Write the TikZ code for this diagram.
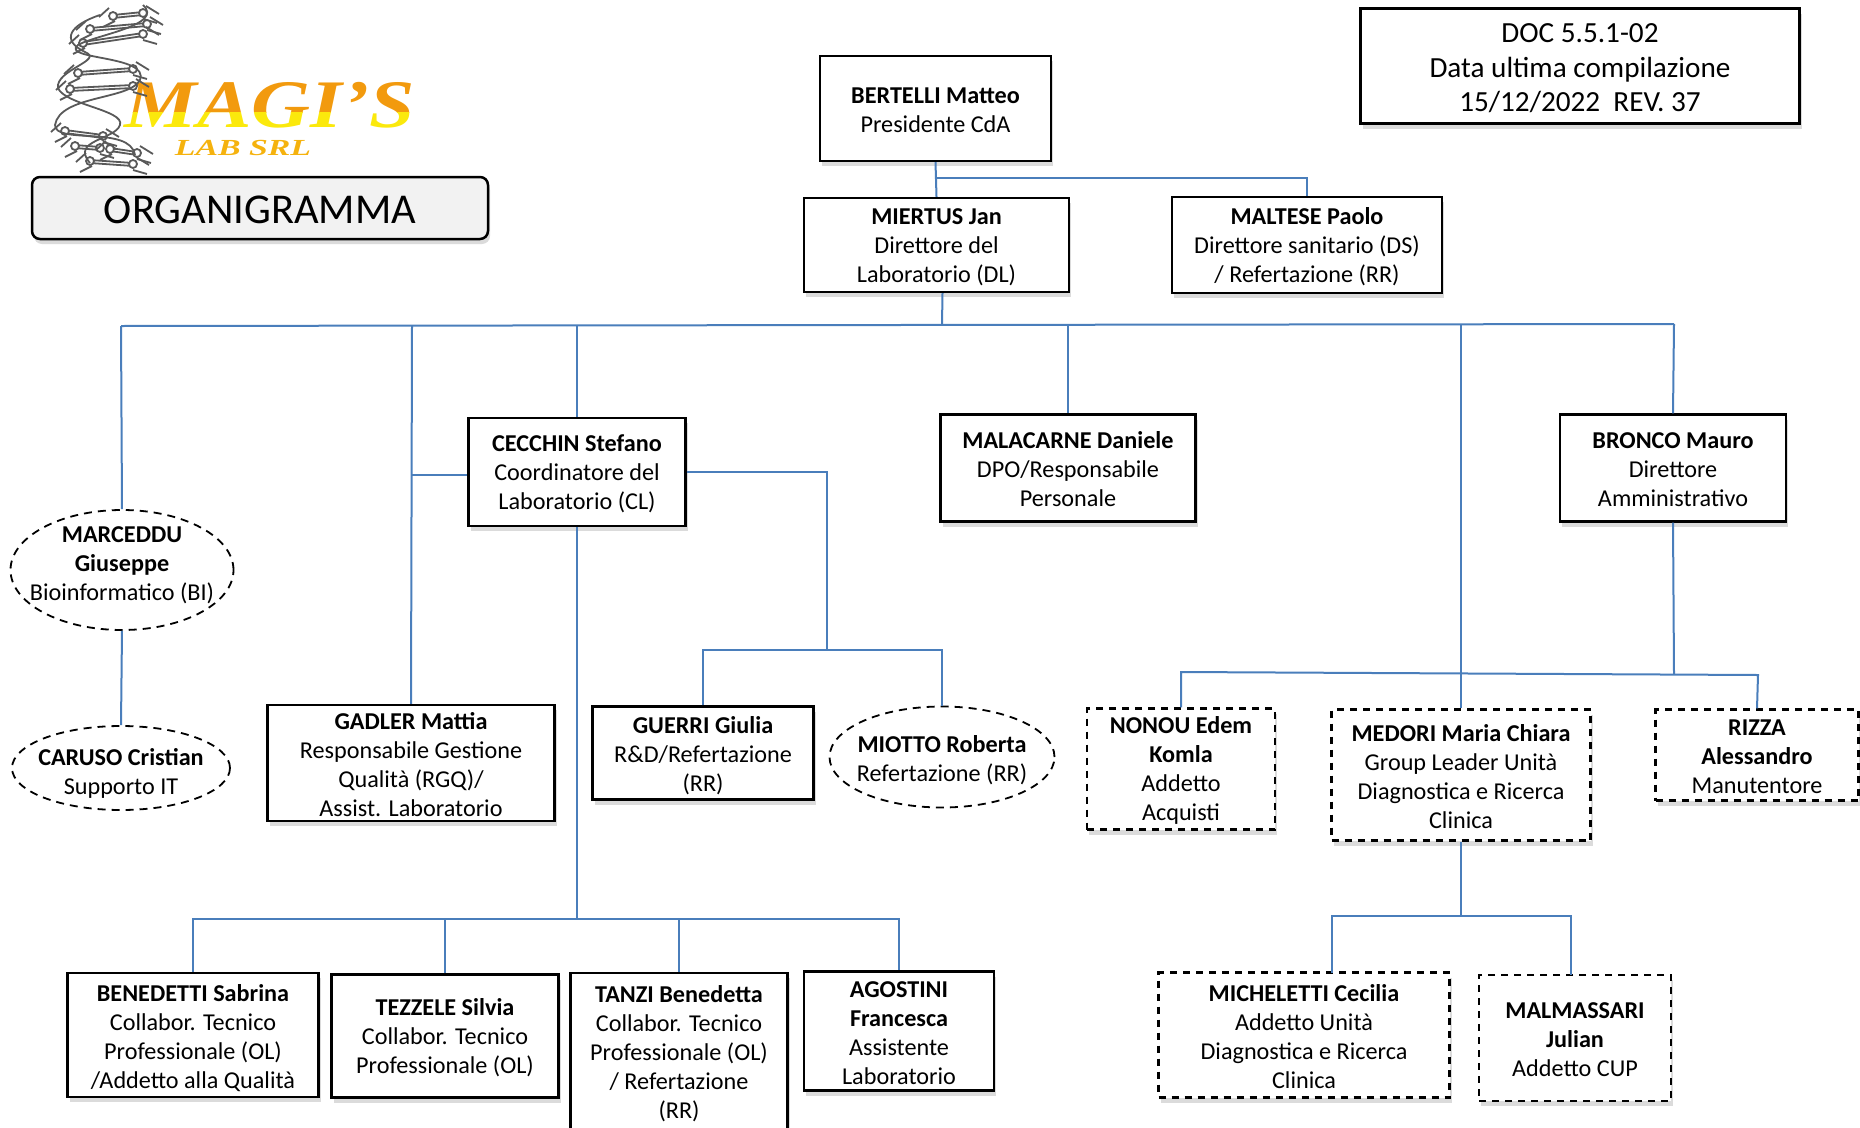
\documentclass[tikz,border=0pt]{standalone}
\usepackage{fontspec}
\setmainfont{Carlito}
\newfontfamily\logofont{Liberation Serif}
\usetikzlibrary{positioning}
\usetikzlibrary{calc}
\usetikzlibrary{shadows}
\usetikzlibrary{shapes.geometric}

\definecolor{linkblue}{HTML}{4A7EBB}
\definecolor{logoorange}{HTML}{F29A0E}
\definecolor{logoyellow}{HTML}{FBE90C}
\newcommand{\lift}[1]{\rule{0pt}{#1pt}}
\newcommand{\nm}[1]{\lift{20}\textbf{#1}}

\begin{document}
\begin{tikzpicture}[ x = 1pt
                     , y = -1pt
                     , font = \fontsize{24.2}{29}\selectfont
                     , every node/.style = { align     = center
                                           , inner sep = 0pt
                                           }
                     ]

  \useasboundingbox (0,0) rectangle (1860,1127);

  %%
  %% Node types
  %%
  \tikzset{ softshadow/.style={drop shadow={shadow xshift=2pt, shadow yshift=-5pt, opacity=0.14, fill=black}}
          , person/.style={rectangle, draw=black, line width=2.3pt, fill=white, softshadow}
          , extern/.style={rectangle, draw=black, line width=2.3pt, dash pattern=on 7pt off 6pt, fill=white, softshadow}
          , oval/.style={ellipse, draw=black, line width=1.8pt, dash pattern=on 8pt off 6pt, inner xsep=-14pt, inner ysep=-3pt}
          , logotext/.style={font=\logofont\bfseries\itshape\fontsize{68}{68}\selectfont, xscale=1.2}
          }

  %%
  %% Line types
  %%
  \tikzset{ link/.style={draw=linkblue, line width=2pt}
          , strand/.style={draw=black!65, line width=1.8pt}
          }

  %%
  %% Logo
  %%
  \begin{scope}
    \clip (100,60) rectangle (430,112);
    \node (magitop) [logotext, text=logoorange] at (270,105.5) {MAGI’S};
  \end{scope}
  \begin{scope}
    \clip (100,112) rectangle (430,135);
    \node (magibottom) [logotext, text=logoyellow] at (270,105.5) {MAGI’S};
  \end{scope}
  \node (labsrl) [text=logoorange!70!logoyellow, font=\logofont\bfseries\itshape\fontsize{23}{23}\selectfont, xscale=1.47] at (243,148) {LAB SRL};

  \foreach \xa/\ya/\xb/\yb in { 113/15/143/12, 90/28/147/23, 83/42/143/33
                              , 78/72/133/68, 70/88/133/85, 65/130/103/135
                              , 75/145/100/147, 110/148/137/152, 90/160/133/163}
    {
    \draw[strand] (\xa,\ya) -- (\xb,\yb);
    \draw[strand] (\xa,\ya+3) -- (\xb,\yb+3);
    \draw[strand] (\xa-4,\ya-7) -- (\xa-14,\ya+2) (\xa+2,\ya+6) -- (\xa-10,\ya+12);
    \draw[strand] (\xb+3,\yb-6) -- (\xb+16,\yb+2) (\xb,\yb+7) -- (\xb+14,\yb+11);
    \draw[strand, fill=white] (\xa,\ya+1) circle (4);
    \draw[strand, fill=white] (\xb,\yb+1) circle (4);
    }
  \draw[strand] (143,5) .. controls (165,25) and (95,35) .. (78,45)
                        .. controls (60,60) and (150,55) .. (140,80)
                        .. controls (130,100) and (60,95) .. (55,125)
                        .. controls (55,145) and (130,125) .. (135,155);
  \draw[strand] (100,15) .. controls (70,25) and (60,40) .. (85,52)
                         .. controls (105,60) and (55,70) .. (58,88)
                         .. controls (65,105) and (125,110) .. (120,125)
                         .. controls (115,140) and (70,140) .. (90,163);

  %%
  %% Nodes
  %%
  \node (title) [rectangle, rounded corners=8pt, draw=black, line width=2.5pt, fill=black!5, softshadow, minimum width=456pt, minimum height=62pt, font=\fontsize{42.5}{42.5}\selectfont] at (260,208) {\lift{31}ORGANIGRAMMA};
  \node (docinfo) [person, minimum width=439pt, minimum height=115pt, font=\fontsize{29.2}{34.5}\selectfont] at (1580,66) {\lift{24}DOC 5.5.1-02\\Data ultima compilazione\\15/12/2022~~REV. 37};

  \node (bertelli)  [person, minimum width=231pt, minimum height=105pt] at (935.5,108.5) {\nm{BERTELLI Matteo}\\Presidente CdA};
  \node (miertus)   [person, minimum width=265pt, minimum height=94pt]  at (936.5,245) {\nm{MIERTUS Jan}\\Direttore del\\Laboratorio (DL)};
  \node (maltese)   [person, minimum width=270pt, minimum height=96pt]  at (1307,245) {\nm{MALTESE Paolo}\\Direttore sanitario (DS)\\/ Refertazione (RR)};

  \node (cecchin)   [person, minimum width=217pt, minimum height=108pt] at (577,472) {\nm{CECCHIN Stefano}\\Coordinatore del\\Laboratorio (CL)};
  \node (malacarne) [person, minimum width=255pt, minimum height=107pt] at (1068,468) {\nm{MALACARNE Daniele}\\DPO/Responsabile\\Personale};
  \node (bronco)    [person, minimum width=226pt, minimum height=107pt] at (1673,468) {\nm{BRONCO Mauro}\\Direttore\\Amministrativo};

  \node (marceddu)  [oval, minimum width=223pt, minimum height=120pt] at (122,570) {\textbf{MARCEDDU}\\\textbf{Giuseppe}\\Bioinformatico (BI)\rule[-13pt]{0pt}{1pt}};
  \node (caruso)    [oval, minimum width=218pt, minimum height=84pt]  at (121,768) {\lift{28}\textbf{CARUSO Cristian}\\Supporto IT};
  \node (gadler)    [person, minimum width=287pt, minimum height=116pt] at (411,763) {\nm{GADLER Mattia}\\Responsabile Gestione\\Qualità (RGQ)/\\Assist. Laboratorio};
  \node (guerri)    [person, minimum width=221pt, minimum height=93pt]  at (703,753) {\lift{23}\textbf{GUERRI Giulia}\\R\&D/Refertazione\\(RR)};
  \node (miotto)    [oval, minimum width=225pt, minimum height=101pt] at (942,757) {\lift{23}\textbf{MIOTTO Roberta}\\Refertazione (RR)};

  \node (nonou)     [extern, minimum width=188pt, minimum height=121pt] at (1181,769) {\nm{NONOU Edem}\\\nm{Komla}\\Addetto\\Acquisti};
  \node (medori)    [extern, minimum width=259pt, minimum height=131pt] at (1461,775) {\nm{MEDORI Maria Chiara}\\Group Leader Unità\\Diagnostica e Ricerca\\Clinica};
  \node (rizza)     [extern, minimum width=203pt, minimum height=91pt]  at (1757,755) {\nm{RIZZA}\\\nm{Alessandro}\\Manutentore};

  \node (benedetti) [person, minimum width=251pt, minimum height=124pt] at (193,1035) {\lift{23}\textbf{BENEDETTI Sabrina}\\Collabor. Tecnico\\Professionale (OL)\\/Addetto alla Qualità};
  \node (tezzele)   [person, minimum width=227pt, minimum height=123pt] at (445,1036) {\nm{TEZZELE Silvia}\\Collabor. Tecnico\\Professionale (OL)};
  \node (tanzi)     [person, minimum width=217pt, minimum height=158pt] at (679,1052) {\nm{TANZI Benedetta}\\Collabor. Tecnico\\Professionale (OL)\\/ Refertazione\\(RR)};
  \node (agostini)  [person, minimum width=190pt, minimum height=119pt] at (899,1031) {\nm{AGOSTINI}\\\nm{Francesca}\\Assistente\\Laboratorio};

  \node (micheletti) [extern, minimum width=291pt, minimum height=125pt] at (1304,1035) {\nm{MICHELETTI Cecilia}\\Addetto Unità\\Diagnostica e Ricerca\\Clinica};
  \node (malmassari) [extern, minimum width=192pt, minimum height=126pt] at (1575,1038) {\nm{MALMASSARI}\\\nm{Julian}\\Addetto CUP};

  %%
  %% Junctions
  %%
  \coordinate (topjoin)   at (936,178);
  \coordinate (busjoin)   at (942,325);
  \coordinate (busleft)   at (121,326);
  \coordinate (busright)  at (1674,324);
  \coordinate (gadlerbus) at (412,326);
  \coordinate (gadlerjoin) at (412,475);
  \coordinate (ceccbus)   at (577,326);
  \coordinate (malabus)   at (1068,325);
  \coordinate (medobus)   at (1461,325);
  \coordinate (labcorner) at (827,472);
  \coordinate (labjoin)   at (827,650);
  \coordinate (staffjoin) at (577,919);
  \coordinate (admjoin)   at (1674,674);
  \coordinate (nonoujoin) at (1181,672);
  \coordinate (rizzajoin) at (1758,675);
  \coordinate (unitjoin)  at (1461,916);
  \coordinate (michtop)   at (1332,973);
  \coordinate (malmtop)   at (1571,975);

  %%
  %% Relationships between nodes
  %%
  %%% Top of the chart
  \draw[link] (bertelli.south) -- (miertus.north);
  \draw[link] (topjoin) -| (maltese.north);
  \draw[link] ($(miertus.south)+(6,0)$) -- (busjoin);
  \draw[link] (busleft) -- (busright);

  %%% Branches from the main line
  \draw[link] (busleft) -- (marceddu.north);
  \draw[link] (marceddu.south) -- (caruso.north);
  \draw[link] (gadlerbus) -- (gadler.north);
  \draw[link] (gadlerjoin) -- (cecchin.west |- gadlerjoin);
  \draw[link] (ceccbus) -- (cecchin.north);
  \draw[link] (malabus) -- (malacarne.north);
  \draw[link] (medobus) -- (medori.north);
  \draw[link] (busright) -- (bronco.north);

  %%% Coordinator
  \draw[link] (cecchin.east) -- (labcorner) -- (labjoin);
  \draw[link] (guerri.north) |- (labjoin) -| (miotto.north);
  \draw[link] (cecchin.south) -- (staffjoin);
  \draw[link] (benedetti.north) |- (staffjoin) -| (agostini.north);
  \draw[link] (tezzele.north) -- (tezzele.north |- staffjoin);
  \draw[link] (tanzi.north) -- (tanzi.north |- staffjoin);

  %%% Administration
  \draw[link] (bronco.south) -- (admjoin);
  \draw[link] (nonou.north) -- (nonoujoin) -- (rizzajoin) -- (rizza.north);

  %%% Diagnostic unit
  \draw[link] (medori.south) -- (unitjoin);
  \draw[link] (michtop) |- (unitjoin) -| (malmtop);

\end{tikzpicture}
\end{document}
